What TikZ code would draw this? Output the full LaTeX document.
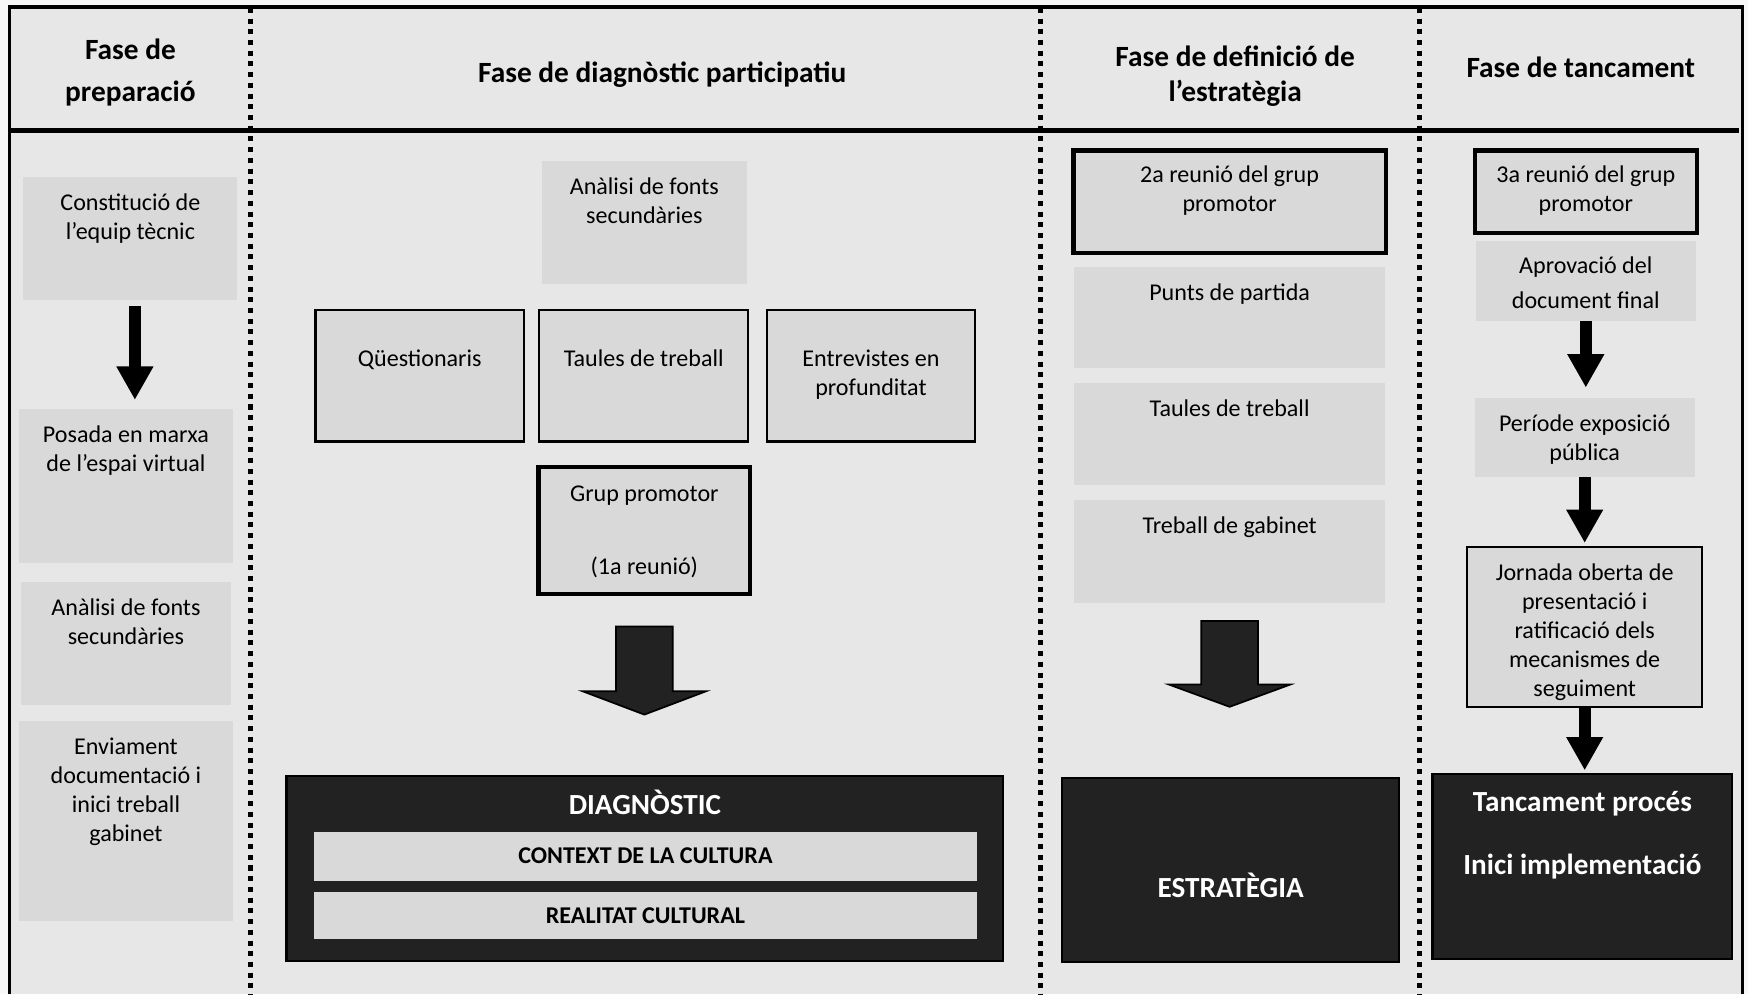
\documentclass[tikz,border=0pt]{standalone}
\usepackage{fontspec}
\setmainfont{Carlito}
\usepackage{tikz}
\usetikzlibrary{positioning}
\usetikzlibrary{calc}
\usetikzlibrary{arrows.meta}

\definecolor{pagebg}{HTML}{F7F7F7}
\definecolor{panelbg}{HTML}{E7E7E7}
\definecolor{boxgray}{HTML}{D9D9D9}
\definecolor{darkfill}{HTML}{222222}

\newcommand{\ux}{0.0223cm}
\newcommand{\bodyfont}{\fontsize{13.7}{16.5}\selectfont}
\newcommand{\capsfont}{\fontsize{13.7}{16.5}\selectfont\bfseries}
\newcommand{\bigfont}{\fontsize{16.6}{20}\selectfont\bfseries}

\tikzset{
	graybox/.style 2 args={fill=boxgray, inner sep=0pt, minimum width=#1*\ux, minimum height=#2*\ux},
	linebox/.style={draw=black, line width=1.2pt},
	heavybox/.style={draw=black, line width=2.4pt},
	darkbox/.style 2 args={fill=darkfill, draw=black, line width=1.2pt, inner sep=0pt, minimum width=#1*\ux, minimum height=#2*\ux},
	toptext/.style={anchor=north, align=center, inner sep=0pt, font=\bodyfont, yshift=-#1*\ux},
	toptext/.default=12,
	whitetext/.style={text=white, align=center, inner sep=0pt, font=\bigfont},
	headtext/.style={align=center, inner sep=0pt},
	dotline/.style={line width=2.85pt, dash pattern=on 2.85pt off 3.25pt},
	downarrow/.style={line width=6.85pt, -{Triangle[width=19.7pt,length=19pt]}},
	blockarrow/.style={fill=darkfill, draw=black, line width=1pt, line join=miter},
}

\begin{document}
\begin{tikzpicture}[x=\ux, y=-\ux]
		\useasboundingbox (0,0) rectangle (1568,892);
		\fill[pagebg] (0,0) rectangle (1568,892);
		\fill[panelbg] (8.5,6.3) rectangle (1563,892);
		\draw[line width=1.8pt] (8.5,892) -- (8.5,6.3) -- (1563,6.3) -- (1563,892);
		\draw[line width=2.9pt] (8.5,117) -- (1560,117);
		\foreach \xd in {225,933,1273}
			\draw[dotline] (\xd,7) -- (\xd,892);

		% headings
		\node[headtext, font={\fontsize{16.7}{24}\selectfont\bfseries}] (prephead) at (117,65) {Fase de\\preparació};
		\node[headtext, font={\fontsize{16.7}{20}\selectfont\bfseries}] (diaghead) at (594,67) {Fase de diagnòstic participatiu};
		\node[headtext, font={\fontsize{16.7}{20}\selectfont\bfseries}] (estrathead) at (1108,68) {Fase de definició de\\l’estratègia};
		\node[headtext, font={\fontsize{16.7}{20}\selectfont\bfseries}] (tanchead) at (1418,60) {Fase de tancament};

		% preparacio
		\node[graybox={192}{110}, label={[toptext]north:\strut Constitució de\\l’equip tècnic}] (constit) at (117,214) {};
		\node[graybox={192}{138}, label={[toptext]north:\strut Posada en marxa\\de l’espai virtual}] (posada) at (113,436) {};
		\node[graybox={188}{110}, label={[toptext]north:\strut Anàlisi de fonts\\secundàries}] (fontsA) at (113,577) {};
		\node[graybox={192}{179}, label={[toptext]north:\strut Enviament\\documentació i\\inici treball\\gabinet}] (enviament) at (113,736.5) {};
		\draw[downarrow, shorten <=5*\ux, shorten >=8*\ux] ([xshift=4*\ux]constit.south) -- ([xshift=8*\ux]posada.north);

		% diagnostic
		\node[graybox={184}{111}, label={[toptext]north:\strut Anàlisi de fonts\\secundàries}] (fontsB) at (578,199.5) {};
		\node[graybox={187}{118}, linebox, label={[toptext=33]north:\strut Qüestionaris}] (questionaris) at (376.5,337) {};
		\node[graybox={187}{118}, linebox, right=12*\ux of questionaris, label={[toptext=33]north:\strut Taules de treball}] (taulesA) {};
		\node[graybox={187}{118}, linebox, right=15*\ux of taulesA, label={[toptext=33]north:\strut Entrevistes en\\profunditat}] (entrevistes) {};
		\node[graybox={190}{114}, heavybox, label={[toptext=14]north:\strut Grup promotor\\[25pt](1a reunió)}] (grup) at (578,476) {};
		\coordinate (diagarrow) at (578,562);
		\draw[blockarrow] (diagarrow) -- ++(25.5,0) -- ++(0,58) -- ++(30,0) -- ++(-55.5,21) -- ++(-55.5,-21) -- ++(30,0) -- ++(0,-58) -- cycle;
		\node[darkbox={643}{166}, label={[whitetext, anchor=north, yshift=-13.5*\ux]north:\strut DIAGNÒSTIC}] (diag) at (578.5,779) {};
		\node[graybox={594}{44}, font=\capsfont] (context) at (579,768) {CONTEXT DE LA CULTURA};
		\node[graybox={594}{42}, font=\capsfont] (realitat) at (579,821) {REALITAT CULTURAL};

		% estrategia
		\node[graybox={280}{92}, heavybox, label={[toptext]north:\strut 2a reunió del grup\\promotor}] (reunio2) at (1103,181) {};
		\node[graybox={279}{91}, below=10*\ux of reunio2, label={[toptext]north:\strut Punts de partida}] (punts) {};
		\node[graybox={279}{91}, below=13*\ux of punts, label={[toptext]north:\strut Taules de treball}] (taulesB) {};
		\node[graybox={279}{92}, below=13*\ux of taulesB, label={[toptext]north:\strut Treball de gabinet}] (gabinet) {};
		\coordinate (estratarrow) at (1103,557);
		\draw[blockarrow] (estratarrow) -- ++(25.5,0) -- ++(0,57) -- ++(29,0) -- ++(-54.5,20) -- ++(-54.5,-20) -- ++(29,0) -- ++(0,-57) -- cycle;
		\node[darkbox={302}{165}, label={[whitetext, yshift=-14*\ux]center:ESTRATÈGIA}] (estrat) at (1104,780.5) {};

		% tancament
		\node[graybox={199}{74}, heavybox, label={[toptext]north:\strut 3a reunió del grup\\promotor}] (reunio3) at (1422.5,172) {};
		\node[graybox={197}{72}, label={[toptext=11]north:\strut Aprovació del\\[3.6pt]document final}] (aprov) at (1422.5,252) {};
		\node[graybox={197}{71}, label={[toptext]north:\strut Període exposició\\pública}] (periode) at (1421.5,392.5) {};
		\node[graybox={211}{143}, linebox, label={[toptext=12]north:\strut Jornada oberta de\\presentació i\\ratificació dels\\mecanismes de\\seguiment}] (jornada) at (1421.5,562.5) {};
		\node[darkbox={269}{166}, label={[whitetext, anchor=north, yshift=-12.8*\ux]north:\strut Tancament procés\\[15.5pt]Inici implementació}] (tancament) at (1419.5,777) {};
		\draw[downarrow, shorten >=9*\ux] (aprov.south) -- (aprov.south |- periode.north);
		\draw[downarrow, shorten >=3*\ux] (periode.south) -- (periode.south |- jornada.north);
		\draw[downarrow, shorten >=2*\ux] (jornada.south) -- (jornada.south |- tancament.north);
\end{tikzpicture}
\end{document}
